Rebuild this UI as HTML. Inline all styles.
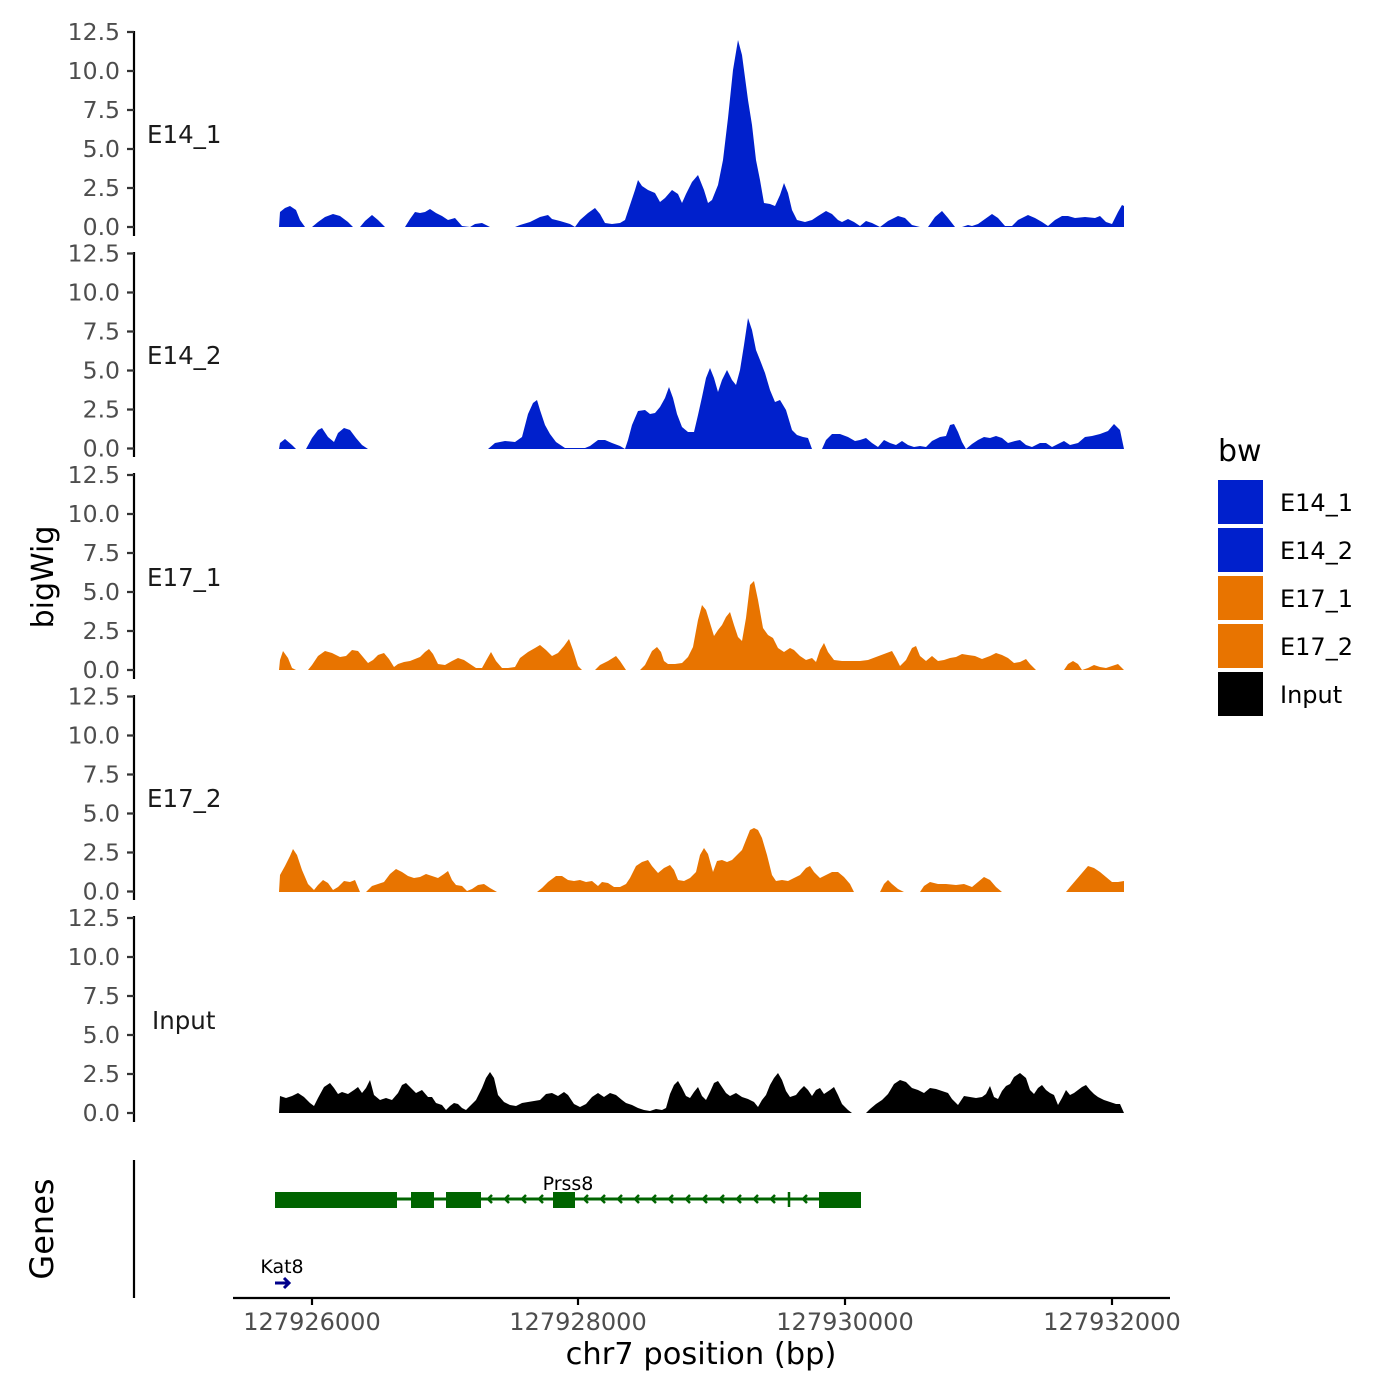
<!DOCTYPE html>
<html><head><meta charset="utf-8"><style>body{margin:0;background:#fff}svg{display:block}text{font-family:"DejaVu Sans","Liberation Sans",sans-serif}</style></head><body>
<svg width="1400" height="1400" viewBox="0 0 1400 1400" xmlns="http://www.w3.org/2000/svg">
<rect width="1400" height="1400" fill="#fff"/>
<polygon fill="#0020CC" points="279,227 280,212 285,208 290,206 296,210 300,220 305,227 312,227 318,222 325,217 333,214 340,216 348,222 353,227 360,227 365,221 372,215 378,220 385,227 405,227 410,219 415,212 420,213 425,212 430,209 436,213 442,216 448,220 455,218 462,226 470,227 475,224 482,223 490,227 515,227 520,225 530,222 540,217 548,215 552,219 560,221 570,224 575,227 580,220 588,213 595,208 600,214 605,223 612,224 620,223 625,220 630,205 635,190 638,180 642,186 648,190 655,193 660,202 665,198 672,190 678,194 682,203 686,194 692,182 698,175 704,190 708,203 712,200 718,185 723,160 728,118 733,70 738,40 742,55 748,100 752,125 756,160 760,180 764,203 770,204 775,206 780,195 784,183 788,193 792,210 797,220 805,222 812,220 818,216 826,211 832,214 838,220 842,222 848,219 854,222 860,226 866,221 872,223 880,227 888,221 898,216 905,218 912,225 920,227 928,227 935,217 942,211 948,218 955,227 962,227 968,225 972,226 978,224 985,219 992,214 998,218 1005,226 1012,226 1018,220 1028,215 1035,218 1042,222 1048,226 1055,220 1062,216 1068,216 1075,218 1085,217 1095,218 1100,216 1106,222 1112,224 1118,212 1122,205 1124,206 1124,227"/>
<polygon fill="#0020CC" points="279,449 280,443 285,439 292,445 296,449 306,449 312,438 318,430 322,428 328,437 334,442 338,433 344,428 350,430 356,438 362,445 368,449 488,449 495,443 505,441 515,442 522,437 528,414 533,403 537,400 540,410 545,425 550,434 556,442 565,448 585,448 590,446 598,440 605,440 612,443 620,446 625,449 628,440 632,425 638,411 645,410 650,414 655,413 660,407 665,398 669,387 673,398 677,414 682,427 688,432 694,432 698,415 702,397 706,378 710,368 714,378 718,392 722,380 727,370 732,380 736,385 740,370 744,345 748,318 752,330 756,350 760,360 765,373 770,390 775,402 780,400 786,410 792,430 797,435 803,437 808,438 812,449 822,449 826,440 832,434 840,434 848,437 855,441 860,440 866,438 872,443 878,447 884,440 890,443 896,445 902,441 908,445 914,447 920,446 926,447 932,441 940,437 946,436 950,425 954,424 958,432 962,442 966,449 972,444 978,440 984,437 990,438 996,436 1002,438 1008,443 1015,441 1020,440 1026,445 1032,447 1040,443 1046,443 1052,447 1058,444 1064,441 1070,445 1078,443 1085,437 1092,436 1100,434 1108,431 1114,424 1120,430 1124,449"/>
<polygon fill="#E87400" points="279,670 280,660 283,651 288,658 292,668 296,670 308,670 312,665 318,656 325,651 332,653 340,657 346,656 352,650 358,651 363,657 368,663 373,660 378,655 384,653 389,659 394,667 398,664 404,662 410,661 415,659 420,657 425,652 429,649 433,654 438,664 445,665 452,661 458,658 464,660 470,664 476,668 482,668 487,659 491,652 496,661 502,668 508,668 515,667 520,658 528,652 535,648 540,645 546,650 552,656 558,653 564,646 569,639 573,650 578,666 582,670 595,670 600,665 608,661 616,656 620,661 626,670 640,670 645,665 652,651 657,647 661,652 664,661 668,664 675,664 682,663 688,657 693,647 698,620 702,605 706,610 710,623 714,636 718,630 722,625 726,617 730,612 734,625 738,637 742,641 746,618 750,585 754,581 758,600 763,628 768,635 773,638 778,648 784,652 790,648 794,650 800,656 806,660 812,658 816,662 820,650 824,643 828,652 834,660 842,661 850,661 860,661 868,660 876,657 884,654 892,651 896,658 900,666 906,660 912,648 916,646 920,656 926,661 932,656 938,661 944,660 950,658 956,657 962,654 968,655 975,656 982,659 990,656 996,653 1002,655 1008,658 1014,663 1020,662 1026,659 1030,664 1036,670 1064,670 1068,664 1073,661 1078,664 1082,670 1088,668 1094,665 1100,667 1106,668 1112,666 1118,664 1124,670"/>
<polygon fill="#E87400" points="279,892 280,875 285,866 290,856 293,849 297,855 302,870 308,884 314,890 318,885 323,880 328,883 333,890 338,887 344,881 350,882 355,880 360,892 366,892 372,886 378,884 384,882 390,874 396,869 402,872 408,876 414,878 420,877 426,874 432,876 438,878 444,874 448,871 452,880 456,885 462,886 467,891 472,889 478,885 484,884 490,888 497,892 537,892 542,888 548,882 556,876 562,876 568,880 574,881 580,880 586,882 592,881 598,886 602,882 608,883 614,887 620,887 626,884 630,878 636,866 642,862 648,860 652,866 658,873 664,868 670,865 674,870 678,880 684,881 690,878 696,872 700,855 704,848 708,854 713,872 717,861 722,860 727,862 732,860 737,855 742,850 746,840 750,830 754,828 758,830 762,838 767,855 772,875 776,881 782,880 788,881 794,878 800,875 806,868 810,866 814,872 820,878 826,875 832,872 838,872 844,877 850,884 854,892 880,892 884,884 888,880 892,884 898,889 904,892 920,892 924,886 930,882 938,884 946,884 956,885 964,884 972,887 978,882 984,877 990,880 996,887 1002,892 1066,892 1070,887 1076,880 1082,873 1088,866 1094,868 1100,872 1106,877 1112,882 1118,882 1124,881 1124,892"/>
<polygon fill="#000" points="279,1113 280,1096 286,1098 292,1096 298,1093 304,1097 310,1103 314,1106 318,1098 324,1087 330,1083 334,1088 338,1094 342,1092 348,1094 354,1090 358,1087 362,1093 366,1088 370,1080 374,1095 380,1100 386,1098 392,1100 398,1093 402,1085 406,1083 410,1087 416,1093 422,1090 428,1097 432,1097 436,1103 442,1105 446,1110 450,1106 454,1103 458,1104 462,1108 466,1110 470,1106 476,1100 482,1088 486,1078 490,1072 494,1078 498,1095 504,1102 510,1105 516,1106 522,1103 528,1102 534,1101 540,1100 546,1094 552,1093 558,1096 564,1092 568,1095 574,1104 580,1107 586,1104 592,1097 598,1093 604,1097 610,1093 616,1095 622,1100 626,1103 632,1105 638,1108 644,1110 650,1111 656,1109 662,1110 666,1108 670,1094 674,1085 678,1081 682,1088 686,1096 690,1098 694,1092 698,1087 702,1096 706,1100 710,1092 714,1083 718,1081 722,1087 726,1093 730,1096 736,1093 742,1097 748,1099 754,1102 758,1107 762,1100 766,1095 770,1085 774,1078 778,1073 782,1080 786,1091 790,1097 796,1095 800,1090 804,1086 808,1090 812,1096 816,1090 820,1088 824,1094 830,1090 834,1087 838,1095 842,1104 848,1110 852,1113 866,1113 870,1109 876,1104 882,1100 888,1094 894,1084 900,1080 906,1082 912,1088 918,1090 924,1093 930,1088 936,1089 942,1091 948,1093 952,1099 958,1105 964,1096 970,1097 976,1098 982,1097 986,1094 990,1086 994,1097 998,1099 1002,1091 1006,1086 1010,1084 1014,1077 1020,1073 1026,1078 1030,1090 1034,1094 1038,1088 1042,1085 1046,1090 1050,1093 1054,1095 1058,1105 1062,1098 1066,1090 1070,1095 1074,1093 1078,1090 1082,1087 1086,1085 1090,1090 1094,1094 1098,1097 1104,1100 1110,1102 1116,1104 1120,1104 1124,1113"/>

<g stroke="#000" stroke-width="2.2">
<line x1="134" y1="31" x2="134" y2="236"/>
<line x1="134" y1="252" x2="134" y2="457"/>
<line x1="134" y1="473" x2="134" y2="679"/>
<line x1="134" y1="695" x2="134" y2="900"/>
<line x1="134" y1="916" x2="134" y2="1122"/>
<line x1="134" y1="1160" x2="134" y2="1298"/>
<line x1="233" y1="1298" x2="1170" y2="1298"/>
<line x1="312" y1="1298" x2="312" y2="1305"/>
<line x1="578" y1="1298" x2="578" y2="1305"/>
<line x1="845" y1="1298" x2="845" y2="1305"/>
<line x1="1112" y1="1298" x2="1112" y2="1305"/>
</g>
<g stroke="#333" stroke-width="2.2">
<path d="M127 32h7M127 71h7M127 110h7M127 149h7M127 188h7M127 227h7"/>
<path transform="translate(0,221.5)" d="M127 32h7M127 71h7M127 110h7M127 149h7M127 188h7M127 227h7"/>
<path transform="translate(0,443)" d="M127 32h7M127 71h7M127 110h7M127 149h7M127 188h7M127 227h7"/>
<path transform="translate(0,664.5)" d="M127 32h7M127 71h7M127 110h7M127 149h7M127 188h7M127 227h7"/>
<path transform="translate(0,886)" d="M127 32h7M127 71h7M127 110h7M127 149h7M127 188h7M127 227h7"/>
</g>
<g fill="#4d4d4d" font-size="23.5" text-anchor="end">
<g><text x="120" y="40">12.5</text><text x="120" y="79">10.0</text><text x="120" y="118">7.5</text><text x="120" y="157">5.0</text><text x="120" y="196">2.5</text><text x="120" y="235">0.0</text></g>
<g transform="translate(0,221.5)"><text x="120" y="40">12.5</text><text x="120" y="79">10.0</text><text x="120" y="118">7.5</text><text x="120" y="157">5.0</text><text x="120" y="196">2.5</text><text x="120" y="235">0.0</text></g>
<g transform="translate(0,443)"><text x="120" y="40">12.5</text><text x="120" y="79">10.0</text><text x="120" y="118">7.5</text><text x="120" y="157">5.0</text><text x="120" y="196">2.5</text><text x="120" y="235">0.0</text></g>
<g transform="translate(0,664.5)"><text x="120" y="40">12.5</text><text x="120" y="79">10.0</text><text x="120" y="118">7.5</text><text x="120" y="157">5.0</text><text x="120" y="196">2.5</text><text x="120" y="235">0.0</text></g>
<g transform="translate(0,886)"><text x="120" y="40">12.5</text><text x="120" y="79">10.0</text><text x="120" y="118">7.5</text><text x="120" y="157">5.0</text><text x="120" y="196">2.5</text><text x="120" y="235">0.0</text></g>
</g>
<g fill="#1a1a1a" font-size="24.5">
<text x="147" y="143">E14_1</text>
<text x="147" y="364">E14_2</text>
<text x="147" y="586">E17_1</text>
<text x="147" y="807">E17_2</text>
<text x="152" y="1029">Input</text>
</g>
<text x="0" y="0" font-size="30" text-anchor="middle" transform="translate(53,577) rotate(-90)">bigWig</text>
<text x="0" y="0" font-size="32" text-anchor="middle" transform="translate(53,1229) rotate(-90)">Genes</text>
<g fill="#4d4d4d" font-size="24" text-anchor="middle">
<text x="312" y="1330">127926000</text><text x="578" y="1330">127928000</text><text x="845" y="1330">127930000</text><text x="1112" y="1330">127932000</text>
</g>
<text x="701" y="1364" font-size="30.5" text-anchor="middle">chr7 position (bp)</text>

<g fill="#006400" stroke="#006400">
<line x1="275" y1="1199" x2="861" y2="1199" stroke-width="3"/>
<rect x="275" y="1192" width="122" height="16" stroke="none"/>
<rect x="411" y="1192" width="23" height="16" stroke="none"/>
<rect x="446" y="1192" width="35" height="16" stroke="none"/>
<rect x="553" y="1192" width="22" height="16" stroke="none"/>
<rect x="819" y="1192" width="42" height="16" stroke="none"/>
<path fill="none" stroke-width="2.5" d="M492 1195l-4 4 4 4M509 1195l-4 4 4 4M526 1195l-4 4 4 4M543 1195l-4 4 4 4M588 1195l-4 4 4 4M605 1195l-4 4 4 4M622 1195l-4 4 4 4M639 1195l-4 4 4 4M656 1195l-4 4 4 4M673 1195l-4 4 4 4M690 1195l-4 4 4 4M707 1195l-4 4 4 4M724 1195l-4 4 4 4M741 1195l-4 4 4 4M758 1195l-4 4 4 4M775 1195l-4 4 4 4M807 1195l-4 4 4 4M789 1192v15"/>
</g>
<text x="568" y="1190" font-size="19" text-anchor="middle">Prss8</text>
<text x="282" y="1273" font-size="19" text-anchor="middle">Kat8</text>
<path d="M275 1283h14M284 1278l5 5-5 5" stroke="#00008B" stroke-width="3" fill="none"/>

<text x="1218" y="461" font-size="30">bw</text>
<rect x="1218" y="480" width="45" height="44" fill="#0020CC"/>
<rect x="1218" y="528" width="45" height="44" fill="#0020CC"/>
<rect x="1218" y="576" width="45" height="44" fill="#E87400"/>
<rect x="1218" y="624" width="45" height="44" fill="#E87400"/>
<rect x="1218" y="672" width="45" height="44" fill="#000"/>
<g font-size="24">
<text x="1280" y="511">E14_1</text><text x="1280" y="559">E14_2</text><text x="1280" y="607">E17_1</text><text x="1280" y="655">E17_2</text><text x="1280" y="703">Input</text>
</g>
</svg>
</body></html>
